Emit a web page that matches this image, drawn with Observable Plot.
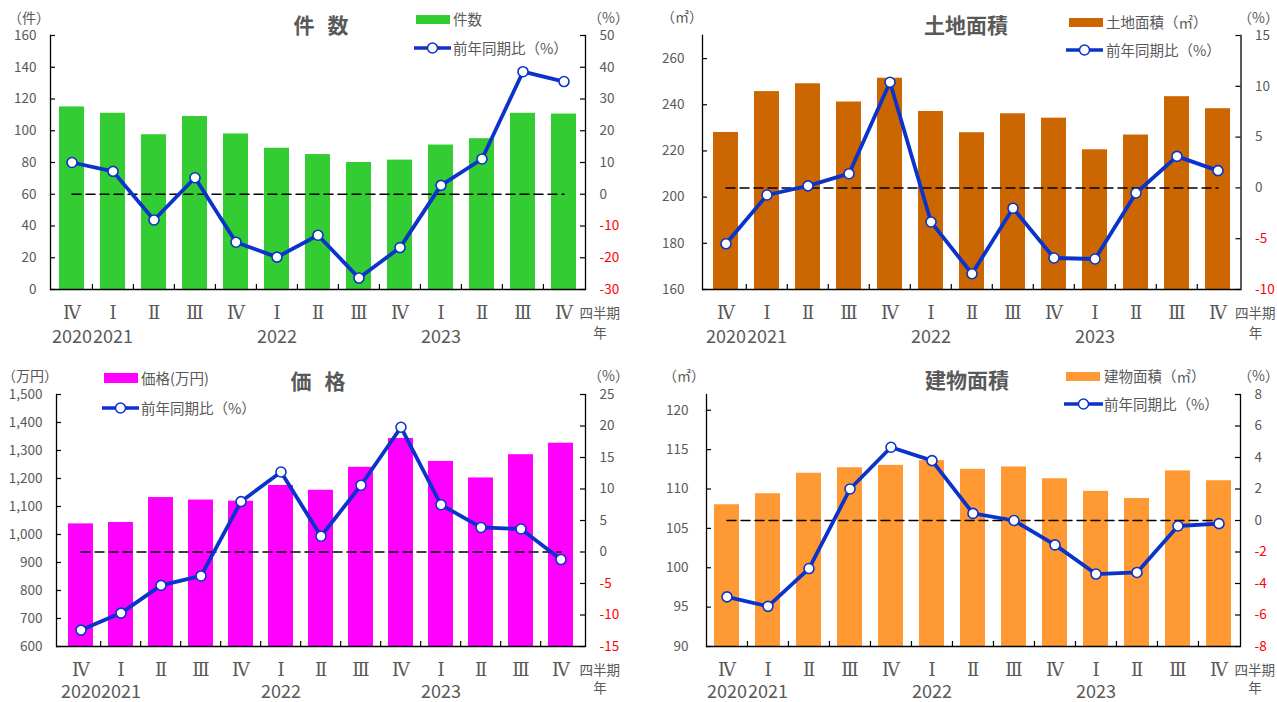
<!DOCTYPE html>
<html><head><meta charset="utf-8">
<script src="https://cdn.jsdelivr.net/npm/d3@7"></script>
<script src="https://cdn.jsdelivr.net/npm/@observablehq/plot@0.6"></script>
<style>
body{margin:0;background:#fff;font-family:"Noto Sans CJK JP",sans-serif;}
#root{position:relative;width:1277px;height:702px;overflow:hidden;}
.panel{position:absolute;}
.lbl{position:absolute;color:#595959;white-space:nowrap;line-height:1;transform:translateY(-50%);}
</style></head><body><div id="root"></div><script>
// ---- data ----
const quarterLabels = ["Ⅳ","Ⅰ","Ⅱ","Ⅲ","Ⅳ","Ⅰ","Ⅱ","Ⅲ","Ⅳ","Ⅰ","Ⅱ","Ⅲ","Ⅳ"];
const yearLabels = ["2020","2021","","","","2022","","","","2023","","",""];
const countValues = [115, 111, 97.5, 109, 98, 89, 85, 80, 81.5, 91, 95, 111, 110.5];
const countYoY = [10.0, 7.2, -8.1, 5.2, -15.1, -19.8, -12.9, -26.4, -16.8, 2.8, 11.1, 38.6, 35.5];
const landValues = [228, 245.7, 249.1, 241.2, 251.5, 237.1, 227.9, 236.1, 234.2, 220.5, 226.9, 243.5, 238.3];
const landYoY = [-5.5, -0.7, 0.2, 1.4, 10.4, -3.35, -8.45, -2.0, -6.9, -7.0, -0.5, 3.1, 1.7];
const priceValues = [1038, 1043, 1132, 1123, 1119, 1175, 1158, 1240, 1343, 1261, 1202, 1285, 1326];
const priceYoY = [-12.4, -9.7, -5.3, -3.8, 8.0, 12.7, 2.5, 10.6, 19.8, 7.5, 3.9, 3.65, -1.2];
const buildingValues = [108.0, 109.4, 112.0, 112.7, 113.0, 113.6, 112.5, 112.8, 111.3, 109.7, 108.8, 112.3, 111.05];
const buildingYoY = [-4.85, -5.45, -3.05, 2.0, 4.65, 3.8, 0.45, 0.0, -1.55, -3.4, -3.3, -0.35, -0.2];

const countTicks = d3.range(0, 161, 20), countYoYTicks = d3.range(-30, 51, 10);
const landTicks = d3.range(160, 261, 20), landYoYTicks = d3.range(-10, 16, 5);
const priceTicks = d3.range(600, 1501, 100), priceYoYTicks = d3.range(-15, 26, 5);
const buildingTicks = d3.range(90, 121, 5), buildingYoYTicks = d3.range(-8, 9, 2);

const LINE = "#0A33CC", GRAY = "#595959", CJK = "Noto Sans CJK JP";
const root = document.getElementById("root");

function label(x, y, text, o = {}) {
  const d = document.createElement("div");
  d.className = "lbl";
  d.textContent = text;
  d.style.left = x + "px"; d.style.top = y + "px";
  d.style.fontSize = (o.size || 14) + "px";
  if (o.weight) d.style.fontWeight = o.weight;
  if (o.center) d.style.transform = "translate(-50%,-50%)";
  if (o.ws) d.style.wordSpacing = o.ws + "px";
  root.appendChild(d);
}
function barSwatch(x, y, w, h, color) {
  const d = document.createElement("div");
  Object.assign(d.style, {position: "absolute", left: x + "px", top: y + "px", width: w + "px", height: h + "px", background: color});
  root.appendChild(d);
}
function lineSwatch(x, y, w) {
  const ns = "http://www.w3.org/2000/svg";
  const s = document.createElementNS(ns, "svg");
  s.setAttribute("width", w + 4); s.setAttribute("height", 14);
  Object.assign(s.style, {position: "absolute", left: (x - 2) + "px", top: (y - 7) + "px"});
  s.innerHTML = `<line x1="2" y1="7" x2="${w + 2}" y2="7" stroke="${LINE}" stroke-width="3.5"/><circle cx="${w / 2 + 2}" cy="7" r="5" fill="white" stroke="${LINE}" stroke-width="1.5"/>`;
  root.appendChild(s);
}

function makePanel(c) {
  const idx = d3.range(c.values.length);
  const [L0, L1] = c.lDomain, [R0, R1] = c.rDomain;
  const toL = v => L0 + (v - R0) * (L1 - L0) / (R1 - R0);
  const fw = c.width - c.mL - c.mR, fh = c.height - c.mT - c.mB;
  const step = fw / idx.length;
  const svg = Plot.plot({
    width: c.width, height: c.height,
    marginLeft: c.mL, marginRight: c.mR, marginTop: c.mT, marginBottom: c.mB,
    style: {fontFamily: CJK, background: "transparent", overflow: "visible"},
    x: {type: "band", domain: idx, paddingInner: 0.38, paddingOuter: 0.19, axis: null},
    y: {domain: c.lDomain, axis: null},
    marks: [
      Plot.barY(idx, {x: i => i, y1: () => L0, y2: i => c.values[i], fill: c.color}),
      Plot.line([0, idx.length - 1], {x: i => i, y: () => toL(0), stroke: "black", strokeWidth: 1.5, strokeDasharray: "9,5"}),
      Plot.line(idx, {x: i => i, y: i => toL(c.yoy[i]), stroke: LINE, strokeWidth: 3.8, strokeLinejoin: "round"}),
      Plot.dot(idx, {x: i => i, y: i => toL(c.yoy[i]), r: 5, fill: "white", stroke: LINE, strokeWidth: 1.6}),
      // axis lines
      Plot.ruleY([L0], {stroke: "black", strokeWidth: 1.3}),
      Plot.frame({anchor: "left", stroke: "black", strokeWidth: 1.3}),
      Plot.frame({anchor: "right", stroke: "black", strokeWidth: 1.3}),
      // inward ticks
      Plot.tickY(c.lTicks, {y: d => d, insetRight: fw - 5, stroke: "black", strokeWidth: 1.2}),
      Plot.tickY(c.rTicks, {y: d => toL(d), insetLeft: fw - 5, stroke: "black", strokeWidth: 1.2}),
      Plot.tickX(idx.slice(1), {x: i => i, dx: -step / 2, insetTop: fh - 5, stroke: "black", strokeWidth: 1.2}),
      // tick labels
      Plot.text(c.lTicks, {y: d => d, text: c.lFormat, frameAnchor: "left", textAnchor: "end", dx: c.lDx, fontSize: 13.5, fill: GRAY}),
      Plot.text(c.rTicks.filter(d => d >= 0), {y: d => toL(d), text: d => String(d), frameAnchor: "right", textAnchor: "start", dx: c.rDx, fontSize: 13.5, fill: GRAY}),
      Plot.text(c.rTicks.filter(d => d < 0), {y: d => toL(d), text: d => String(d), frameAnchor: "right", textAnchor: "start", dx: c.rDx, fontSize: 13.5, fill: "#FF0000"}),
      Plot.text(idx, {x: i => i, text: i => quarterLabels[i], frameAnchor: "bottom", dy: c.qDy, lineAnchor: "middle", fontSize: 18, fontFamily: "DejaVu Serif", fill: GRAY}),
      Plot.text(idx.filter(i => yearLabels[i]), {x: i => i, text: i => yearLabels[i], frameAnchor: "bottom", dy: c.yDy, lineAnchor: "middle", fontSize: 18, fill: GRAY}),
      Plot.text(["四半期"], {text: d => d, frameAnchor: "bottom-right", textAnchor: "start", dx: -6, dy: c.qDy, lineAnchor: "middle", fontSize: 13.5, fill: GRAY}),
      Plot.text(["年"], {text: d => d, frameAnchor: "bottom-right", textAnchor: "middle", dx: 14.5, dy: c.yDy - 4, lineAnchor: "middle", fontSize: 13.5, fill: GRAY})
    ]
  });
  const wrap = document.createElement("div");
  wrap.className = "panel";
  wrap.style.left = c.left + "px"; wrap.style.top = c.top + "px";
  wrap.appendChild(svg);
  root.appendChild(wrap);
}

makePanel({left: 0, top: 0, width: 640, height: 351, mL: 50, mR: 55, mT: 35, mB: 62,
  lDomain: [0, 160], lTicks: countTicks, lFormat: d => String(d), lDx: -14,
  rDomain: [-30, 50], rTicks: countYoYTicks, rDx: 14,
  values: countValues, yoy: countYoY, color: "#33CC33", qDy: 24, yDy: 48});
makePanel({left: 640, top: 0, width: 637, height: 351, mL: 62, mR: 36.5, mT: 35, mB: 62,
  lDomain: [160, 270], lTicks: landTicks, lFormat: d => String(d), lDx: -18,
  rDomain: [-10, 15], rTicks: landYoYTicks, rDx: 14,
  values: landValues, yoy: landYoY, color: "#CC6600", qDy: 24, yDy: 48});
makePanel({left: 0, top: 351, width: 640, height: 351, mL: 56, mR: 55, mT: 43, mB: 56,
  lDomain: [600, 1500], lTicks: priceTicks, lFormat: d => d3.format(",")(d), lDx: -14,
  rDomain: [-15, 25], rTicks: priceYoYTicks, rDx: 14,
  values: priceValues, yoy: priceYoY, color: "#FF00FF", qDy: 24, yDy: 46});
makePanel({left: 640, top: 351, width: 637, height: 351, mL: 66, mR: 37, mT: 43, mB: 56,
  lDomain: [90, 122], lTicks: buildingTicks, lFormat: d => String(d), lDx: -18,
  rDomain: [-8, 8], rTicks: buildingYoYTicks, rDx: 14,
  values: buildingValues, yoy: buildingYoY, color: "#FF9933", qDy: 24, yDy: 46});

// titles
label(321, 24, "件 数", {size: 21, weight: 600, center: true, ws: 8});
label(966, 24, "土地面積", {size: 21, weight: 600, center: true});
label(318, 380, "価 格", {size: 21, weight: 600, center: true, ws: 8});
label(967, 379, "建物面積", {size: 21, weight: 600, center: true});
// units
label(8, 17, "（件）"); label(588, 17, "（%）");
label(661, 16, "（㎡）"); label(1238, 17, "（%）");
label(2, 375, "（万円）"); label(588, 375, "（%）");
label(663, 375, "（㎡）"); label(1238, 375, "（%）");
// legends
barSwatch(416, 15, 34, 9, "#33CC33"); label(453, 19, "件数", {size: 14.5});
lineSwatch(414, 48, 37); label(453, 48, "前年同期比（%）", {size: 14.5});
barSwatch(1069, 18, 34, 9, "#CC6600"); label(1106, 22, "土地面積（㎡）", {size: 14.5});
lineSwatch(1066, 50, 37); label(1106, 50, "前年同期比（%）", {size: 14.5});
barSwatch(104, 373, 34, 10, "#FF00FF"); label(141, 378, "価格(万円)", {size: 14.5});
lineSwatch(102, 408, 37); label(141, 408, "前年同期比（%）", {size: 14.5});
barSwatch(1066, 372, 34, 9, "#FF9933"); label(1104, 376, "建物面積（㎡）", {size: 14.5});
lineSwatch(1064, 404, 39); label(1104, 404, "前年同期比（%）", {size: 14.5});
</script></body></html>
